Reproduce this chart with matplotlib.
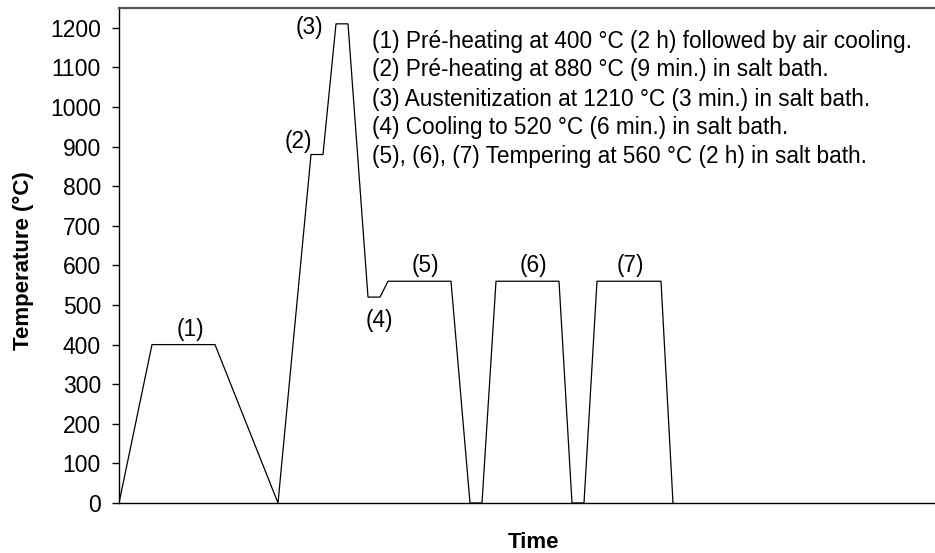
import matplotlib
matplotlib.use("Agg")
from matplotlib import pyplot as plt

plt.rcParams["font.family"] = ["Liberation Sans", "DejaVu Sans"]

# heat treatment cycle (arbitrary time units)
time = [0, 33, 96, 159, 192, 204, 217, 229, 249, 261, 269, 332,
        351, 363, 377, 440, 453, 465, 478, 542, 554]
temp = [0, 400, 400, 0, 880, 880, 1210, 1210, 520, 520, 560, 560,
        0, 0, 560, 560, 0, 0, 560, 560, 0]

step_labels = ["(1)", "(2)", "(3)", "(4)", "(5)", "(6)", "(7)"]
step_x = [71, 179, 190, 260, 306, 414, 511]
step_y = [439, 912, 1200, 462, 601, 601, 601]

notes = [
    "(1) Pré-heating at 400 °C (2 h) followed by air cooling.",
    "(2) Pré-heating at 880 °C (9 min.) in salt bath.",
    "(3) Austenitization at 1210 °C (3 min.) in salt bath.",
    "(4) Cooling to 520 °C (6 min.) in salt bath.",
    "(5), (6), (7) Tempering at 560 °C (2 h) in salt bath.",
]
notes_y = [1165, 1094, 1018, 947, 874]

yticks = list(range(0, 1300, 100))

fig = plt.figure(figsize=(9.35, 5.53), dpi=100)
ax = fig.add_axes([119 / 935, 50 / 553, 816 / 935, 495 / 553])

ax.plot(time, temp, color="black", linewidth=0.9)

for lab, x, y in zip(step_labels, step_x, step_y):
    ax.text(x, y, lab, fontsize=16.3, ha="center", va="center")

for note, y in zip(notes, notes_y):
    ax.text(253, y, note, fontsize=16.3, ha="left", va="center")

ax.set_xlim(0, 816)
ax.set_ylim(0, 1250)
ax.set_yticks(yticks)
ax.set_xticks([])
ax.tick_params(axis="y", direction="out", length=5, width=1, labelsize=16.5, pad=8)

ax.spines["right"].set_visible(False)
ax.spines["top"].set_color("#555555")
ax.spines["top"].set_linewidth(1.6)
ax.spines["left"].set_linewidth(1)
ax.spines["bottom"].set_linewidth(1)

ax.set_xlabel("Time", fontsize=16, fontweight="bold")
ax.xaxis.set_label_coords((533 - 119) / 816, -(543 - 503) / 495, transform=ax.transAxes)
ax.xaxis.label.set_va("center")
ax.set_ylabel("Temperature (°C)", fontsize=16, fontweight="bold")
ax.yaxis.set_label_coords(-(119 - 23) / 816, (503 - 261) / 495)
ax.yaxis.label.set_va("center")

fig.savefig("out.png", dpi=100)
